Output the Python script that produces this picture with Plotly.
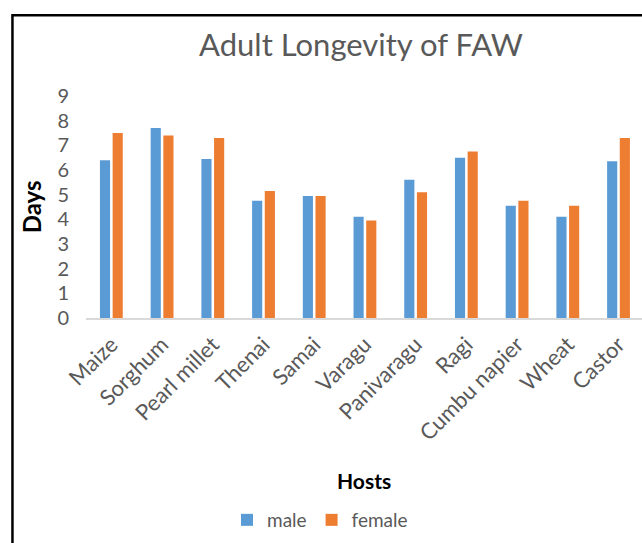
import plotly.graph_objects as go

# Host plants and mean adult longevity (days) of fall armyworm
hosts = ["Maize", "Sorghum", "Pearl millet", "Thenai", "Samai", "Varagu",
         "Panivaragu", "Ragi", "Cumbu napier", "Wheat", "Castor"]
male = [6.4, 7.7, 6.45, 4.75, 4.95, 4.1, 5.6, 6.5, 4.55, 4.1, 6.35]
female = [7.5, 7.4, 7.3, 5.15, 4.95, 3.95, 5.1, 6.75, 4.75, 4.55, 7.3]
y_ticks = list(range(0, 10))

W, H = 642, 543
L, R, T, B = 85.6, 0, 96, 224.5

FONT = "Lato, Open Sans, sans-serif"
GRAY = "#595959"


def px_x(px):
    return (px - L) / (W - L - R)


def px_y(py):
    return (H - B - py) / (H - T - B)


fig = go.Figure()
fig.add_trace(go.Bar(name="male", x=hosts, y=male,
                     marker=dict(color="#5B9BD5", line=dict(width=0))))
fig.add_trace(go.Bar(name="female", x=hosts, y=female,
                     marker=dict(color="#ED7D31", line=dict(width=0))))

fig.update_layout(
    width=W, height=H,
    margin=dict(l=L, r=R, t=T, b=B, pad=0),
    paper_bgcolor="white", plot_bgcolor="white",
    barmode="group", bargap=0.5, bargroupgap=0.2,
    font=dict(family=FONT, color=GRAY),
    title=dict(text="Adult Longevity of FAW", font=dict(size=31, color=GRAY, family=FONT),
               xref="container", yref="container", x=361 / W, y=1 - 45 / H,
               xanchor="center", yanchor="middle"),
    xaxis=dict(range=[-0.5, 10.463], showline=True, linecolor="#D9D9D9", linewidth=2,
               showgrid=False, zeroline=False, ticks="", tickangle=-45,
               ticklabelstandoff=3,
               tickfont=dict(size=22, color=GRAY, family=FONT)),
    yaxis=dict(range=[0, 9], tickvals=y_ticks, showgrid=False, zeroline=False,
               showline=False, ticks="", ticklabelstandoff=16,
               tickfont=dict(size=20, color=GRAY, family=FONT)),
    legend=dict(orientation="h", xref="container", yref="container",
                x=320 / W, y=1 - 520 / H, xanchor="center", yanchor="middle",
                font=dict(size=19, color=GRAY, family=FONT),
                itemwidth=30, traceorder="normal"),
    showlegend=True,
)

fig.add_annotation(text="<b>Days</b>", xref="paper", yref="paper",
                   x=px_x(31), y=px_y(207), xanchor="center", yanchor="middle",
                   showarrow=False, textangle=-90,
                   font=dict(size=24, color="black", family=FONT))
fig.add_annotation(text="<b>Hosts</b>", xref="paper", yref="paper",
                   x=px_x(364), y=px_y(481), xanchor="center", yanchor="middle",
                   showarrow=False,
                   font=dict(size=21, color="black", family=FONT))

# Chart-area frame (left and top edges visible)
fig.add_shape(type="rect", xref="paper", yref="paper",
              x0=px_x(12), y0=px_y(560), x1=px_x(660), y1=px_y(15),
              line=dict(color="black", width=2.5), layer="above")

fig.write_html("out.html")
